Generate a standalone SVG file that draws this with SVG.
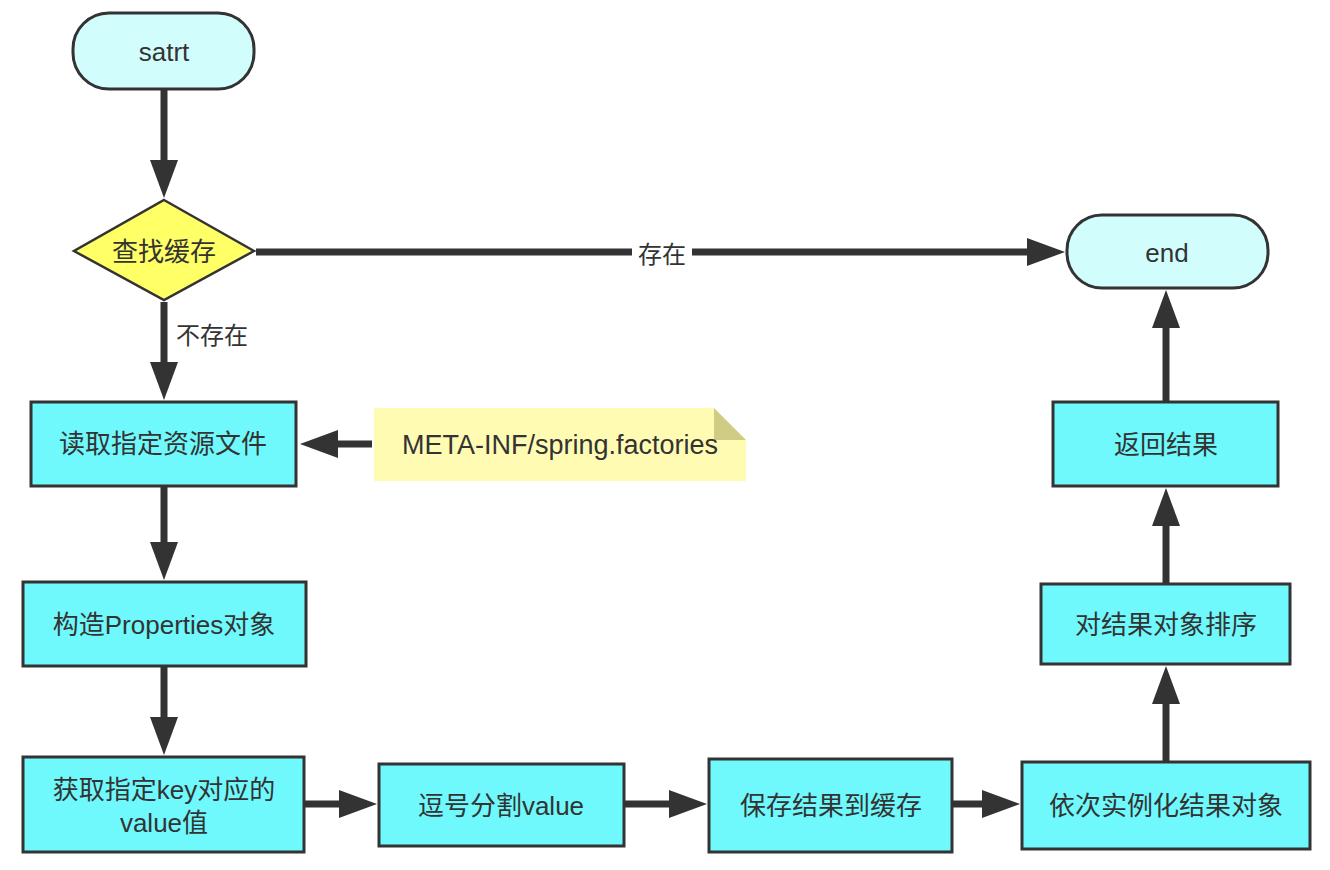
<svg xmlns="http://www.w3.org/2000/svg" width="1330" height="870" viewBox="0 0 1330 870">
<style>
text{font-family:"Liberation Sans","Noto Sans CJK SC",sans-serif;font-size:26px;fill:#333;text-anchor:middle;dominant-baseline:central}
.term{fill:#d2fdfd;stroke:#333;stroke-width:3}
.proc{fill:#6ff9fc;stroke:#333;stroke-width:3}
.dec{fill:#ffff66;stroke:#333;stroke-width:2.5}
.conn{stroke:#333;stroke-width:7;fill:none}
.lbl{font-size:24px}
.note{font-size:27px}
</style>
<defs>
<marker id="ah" viewBox="0 0 38 28" refX="8" refY="14" markerWidth="38" markerHeight="28" markerUnits="userSpaceOnUse" orient="auto">
<path d="M0,0 L38,14 L0,28 z" fill="#333"/>
</marker>
</defs>
<rect width="1330" height="870" fill="#fff"/>
<g id="connectors">
<path class="conn" d="M164,89 V168" marker-end="url(#ah)"/>
<path class="conn" d="M256,252 H1035" marker-end="url(#ah)"/>
<rect x="632" y="238" width="60" height="30" fill="#fff"/>
<text class="lbl" x="662" y="254">存在</text>
<path class="conn" d="M164,302 V370" marker-end="url(#ah)"/>
<text class="lbl" x="212" y="335">不存在</text>
<path class="conn" d="M372,444 H330" marker-end="url(#ah)"/>
<path class="conn" d="M164,487 V550" marker-end="url(#ah)"/>
<path class="conn" d="M164,666 V725" marker-end="url(#ah)"/>
<path class="conn" d="M304,804 H347" marker-end="url(#ah)"/>
<path class="conn" d="M624,804 H677" marker-end="url(#ah)"/>
<path class="conn" d="M952,804 H990" marker-end="url(#ah)"/>
<path class="conn" d="M1166,762 V696" marker-end="url(#ah)"/>
<path class="conn" d="M1166,584 V518" marker-end="url(#ah)"/>
<path class="conn" d="M1166,402 V320" marker-end="url(#ah)"/>
</g>
<g id="start">
<rect class="term" x="73" y="13" width="181" height="76" rx="36"/>
<text x="164" y="52">satrt</text>
</g>
<g id="check-cache">
<polygon class="dec" points="164,200 254,251 164,300 74,251"/>
<text x="164" y="252">查找缓存</text>
</g>
<g id="end">
<rect class="term" x="1067" y="215" width="201" height="73" rx="35"/>
<text x="1167" y="253">end</text>
</g>
<g id="read-file">
<rect class="proc" x="31" y="402" width="265" height="84"/>
<text x="163" y="444">读取指定资源文件</text>
</g>
<g id="note">
<path d="M374,408 H714 L746,440 V481 H374 z" fill="#fffbb3"/>
<path d="M714,408 L746,440 H714 z" fill="#cfcc85"/>
<text class="note" x="560" y="445">META-INF/spring.factories</text>
</g>
<g id="build-props">
<rect class="proc" x="23" y="582" width="283" height="84"/>
<text x="164" y="625">构造Properties对象</text>
</g>
<g id="get-value">
<rect class="proc" x="23" y="757" width="281" height="95"/>
<text x="164" y="790">获取指定key对应的</text>
<text x="164" y="823">value值</text>
</g>
<g id="split">
<rect class="proc" x="379" y="764" width="245" height="82"/>
<text x="501" y="806">逗号分割value</text>
</g>
<g id="save-cache">
<rect class="proc" x="709" y="759" width="243" height="93"/>
<text x="831" y="806">保存结果到缓存</text>
</g>
<g id="instantiate">
<rect class="proc" x="1022" y="762" width="288" height="87"/>
<text x="1166" y="806">依次实例化结果对象</text>
</g>
<g id="sort">
<rect class="proc" x="1041" y="584" width="249" height="80"/>
<text x="1166" y="625">对结果对象排序</text>
</g>
<g id="return">
<rect class="proc" x="1053" y="402" width="225" height="84"/>
<text x="1166" y="445">返回结果</text>
</g>
</svg>
